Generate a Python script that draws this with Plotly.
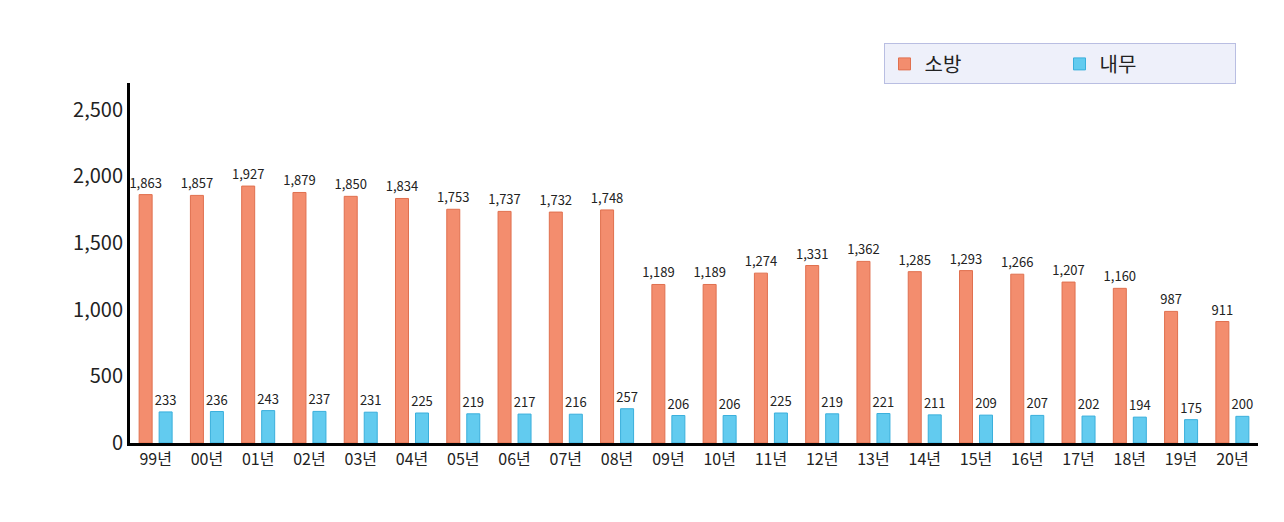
import plotly.graph_objects as go

years = ["99년", "00년", "01년", "02년", "03년", "04년", "05년", "06년", "07년", "08년", "09년",
         "10년", "11년", "12년", "13년", "14년", "15년", "16년", "17년", "18년", "19년", "20년"]
fire = [1863, 1857, 1927, 1879, 1850, 1834, 1753, 1737, 1732, 1748, 1189,
        1189, 1274, 1331, 1362, 1285, 1293, 1266, 1207, 1160, 987, 911]
interior = [233, 236, 243, 237, 231, 225, 219, 217, 216, 257, 206,
            206, 225, 219, 221, 211, 209, 207, 202, 194, 175, 200]

fig = go.Figure()
fig.add_bar(x=years, y=fire, name="소방", marker=dict(color="#F38D6E", line=dict(color="#E0704F", width=1)),
            text=[f"{v:,}" for v in fire], textposition="outside", constraintext="none",
            textfont=dict(size=13, color="#222"), cliponaxis=False)
fig.add_bar(x=years, y=interior, name="내무", marker=dict(color="#62CBEF", line=dict(color="#3AAFDC", width=1)),
            text=[f"{v:,}" for v in interior], textposition="outside", constraintext="none",
            textfont=dict(size=13, color="#222"), cliponaxis=False)

fig.update_layout(
    width=1284, height=522,
    margin=dict(l=122, r=34, t=75, b=87),
    plot_bgcolor="white", paper_bgcolor="white",
    font=dict(family="Noto Sans CJK KR, Noto Sans, sans-serif", color="#222"),
    barmode="group", bargap=0.22, bargroupgap=0.35,
    showlegend=True,
    legend=dict(orientation="h", x=0.668, y=1.11, xanchor="left", yanchor="top",
                bgcolor="#EEF0FA", bordercolor="#B9BEE2", borderwidth=1,
                font=dict(size=20), entrywidth=130),
    yaxis=dict(range=[0, 2700], tickvals=[0, 500, 1000, 1500, 2000, 2500],
               tickformat=",", showgrid=False, showline=True, linecolor="black",
               linewidth=3, ticks="", tickfont=dict(size=20), zeroline=False),
    xaxis=dict(showline=True, linecolor="black", linewidth=3, ticks="",
               tickfont=dict(size=16)),
)

fig.write_html("out.html")
